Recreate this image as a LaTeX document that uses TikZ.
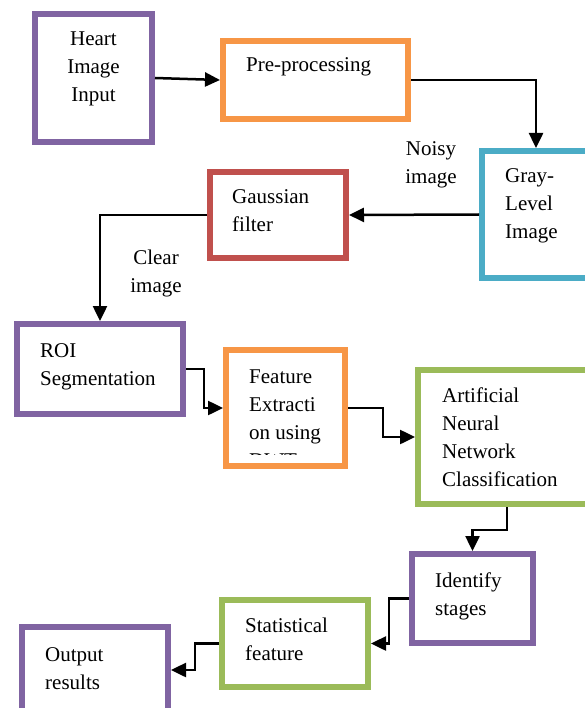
\documentclass[tikz,border=0pt]{standalone}
\usepackage{fontspec}
\setmainfont{Liberation Serif}
\usetikzlibrary{arrows.meta}

\definecolor{boxpurple}{HTML}{8064A2}
\definecolor{boxorange}{HTML}{F79646}
\definecolor{boxblue}{HTML}{4BACC6}
\definecolor{boxred}{HTML}{C0504D}
\definecolor{boxgreen}{HTML}{9BBB59}

\begin{document}
\begin{tikzpicture}[x=1pt,y=-1pt,
  box/.style={draw=#1,line width=6pt,inner sep=0pt},
  txt/.style={font=\fontsize{21}{28}\selectfont,inner sep=0pt,align=left,anchor=base west},
  arr/.style={line width=2.5pt,-{Triangle[length=15pt,width=14pt]}}]
  \useasboundingbox (0,0) rectangle (584,708);

  \node[box=boxpurple,minimum width=117pt,minimum height=128pt] (heart) at (93.5,78) {};
  \node[box=boxorange,minimum width=185pt,minimum height=78pt] (pre) at (315.5,80) {};
  \node[box=boxblue,minimum width=108pt,minimum height=127pt] (gray) at (536,214.5) {};
  \node[box=boxred,minimum width=136pt,minimum height=86pt] (gauss) at (278,215) {};
  \node[box=boxpurple,minimum width=166pt,minimum height=90pt] (roi) at (100,369) {};
  \node[box=boxorange,minimum width=119pt,minimum height=116pt] (feat) at (285.5,408) {};
  \node[box=boxgreen,minimum width=178pt,minimum height=134pt] (ann) at (507,437) {};
  \node[box=boxpurple,minimum width=121pt,minimum height=89pt] (ident) at (472.5,598.5) {};
  \node[box=boxgreen,minimum width=146pt,minimum height=87pt] (stat) at (295,643.5) {};
  \node[box=boxpurple,minimum width=146pt,minimum height=86pt] (out) at (95,670) {};

  % box texts (placed at the baseline of the last line)
  \node[txt,align=center,anchor=base] (heart-txt) at (93.5,102) {Heart\\Image\\Input};
  \node[txt] (pre-txt) at (246,72) {Pre-processing};
  \node[txt] (gray-txt) at (505,239) {Gray-\\Level\\Image};
  \node[txt] (gauss-txt) at (232,232) {Gaussian\\filter};
  \node[txt] (roi-txt) at (40,385) {ROI\\Segmentation};
  \begin{scope}
    \clip (226,350) rectangle (345,454);
    \node[txt] (feat-txt) at (249,467) {Feature\\Extracti\\on using\\DWT};
  \end{scope}
  \node[txt] (ann-txt) at (442,486) {Artificial\\Neural\\Network\\Classification};
  \node[txt] (ident-txt) at (435,615) {Identify\\stages};
  \node[txt] (stat-txt) at (245,660) {Statistical\\feature};
  \node[txt] (out-txt) at (45,689) {Output\\results};

  % flow labels
  \node[txt,align=center,anchor=base] (noisy) at (431,184) {Noisy\\image};
  \node[txt,align=center,anchor=base] (clear) at (156,292) {Clear\\image};

  % connectors
  \draw[arr] (heart.east) -- (pre.west);
  \draw[arr] (pre.east) -| (gray.north);
  \draw[arr] (gray.west) -- (gauss.east);
  \draw[arr] (gauss.west) -| (roi.north);
  \draw[arr] (roi.east) -- ++(18,0) |- (feat.west);
  \draw[arr] (feat.east) -- ++(35,0) |- (ann.west);
  \draw[arr] (ann.south) -- ++(0,23) -| (ident.north);
  \draw[arr] (ident.west) -- ++(-20,0) |- (stat.east);
  \draw[arr] (stat.west) -- ++(-24,0) |- (out.east);
\end{tikzpicture}
\end{document}
